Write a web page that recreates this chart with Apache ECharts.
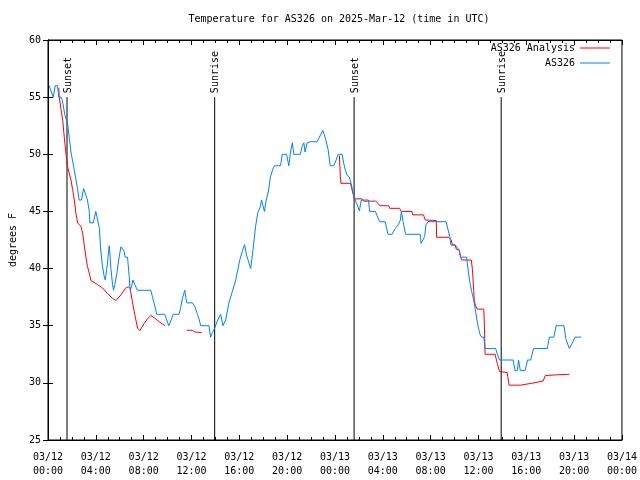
<!DOCTYPE html>
<html>
<head>
<meta charset="utf-8">
<script src="https://cdn.jsdelivr.net/npm/echarts@6/dist/echarts.min.js"></script>
<style>html,body{margin:0;padding:0;background:#fff}#c{width:640px;height:480px}</style>
</head>
<body>
<div id="c"></div>
<script>
// Hours since 2025-03-12 00:00 UTC
const blueHours = [0.1,0.44,0.6,0.8,0.9,1.1,1.2,1.4,1.64,1.92,2.2,2.48,2.6,2.8,2.98,3.1,3.3,3.45,3.5,3.78,4.0,4.15,4.3,4.42,4.56,4.7,4.79,4.9,4.98,5.06,5.12,5.2,5.26,5.4,5.48,5.59,5.76,5.95,6.1,6.18,6.37,6.45,6.65,6.79,6.87,6.98,7.1,7.26,7.48,8.6,8.74,8.87,9.0,9.1,9.77,9.93,10.1,10.3,10.47,10.96,11.1,11.24,11.44,11.6,12.08,12.27,12.5,12.63,12.77,13.46,13.6,13.75,13.94,14.16,14.44,14.63,14.86,15.13,15.42,15.7,16.05,16.25,16.44,16.6,16.8,16.95,17.14,17.36,17.55,17.72,17.86,18.0,18.1,18.25,18.42,18.6,18.8,18.95,19.45,19.59,19.95,20.14,20.28,20.43,20.56,21.1,21.26,21.4,21.5,21.67,21.95,22.5,22.8,22.98,23.2,23.43,23.6,23.9,24.1,24.26,24.6,24.73,24.87,25.0,25.2,25.35,25.5,25.65,25.85,26.04,26.2,26.8,26.9,27.38,27.57,27.74,28.2,28.35,28.44,28.77,29.05,29.33,29.47,29.55,29.7,29.9,31.13,31.2,31.36,31.5,31.6,31.78,33.3,33.43,33.6,33.7,34.06,34.4,34.5,35.0,35.17,35.3,35.43,35.6,35.74,35.87,36.0,36.14,36.28,36.45,36.55,37.44,37.58,37.76,38.9,39.06,39.25,39.35,39.5,39.9,40.1,40.37,40.6,41.76,41.93,42.3,42.5,43.15,43.3,43.6,43.9,44.07,44.6];
const blueTemps = [56,55,56,56,55,55,54.7,53.5,52.6,50.2,48.6,46.9,46,46,47,47,46,45,44,44,45,45,43.5,41.5,40.2,39.3,39,39.9,40.5,41.5,42,41,40,38.6,38.1,38.6,39.6,41,41.9,42,41.5,41,41,39.3,38.1,38.4,39,38.6,38.1,38.1,37.5,37,37,36,36,35.5,35,35.5,36,36,36.6,37.4,38.1,37,37,36.7,36,35.6,35,35,34,34.4,34.8,35.4,36,35,35.5,37,38,39,40.8,41.5,42.1,41.2,40.5,40,41.6,43.7,44.9,45.3,46,46,45,46,46.7,48,48.7,49,49,50,50,49,50.2,51,50,50,50.7,51,50.2,51,51.1,51.1,51.7,52.1,51.4,50.4,49,49,49.5,50,50,49.2,48.6,48.2,48,47.45,46.7,46.1,45.6,45.05,46,46,45,45,44.5,44.1,44.1,43.4,43,43,43.5,43.9,44.25,45,44.1,43,43,42.2,42.06,42.8,43.8,44.1,44.1,43.5,42.8,42.06,42.06,41.6,41,41,39.6,38.7,38,37.25,36.4,35.5,34.8,34.2,34,34,33,33,32.5,32,32,31.07,31.07,32,31.07,31.07,32,32,33,33,34,34,35,35,33.9,33,33.6,34,34];
const redHours = [0.9,0.94,1.08,1.23,1.36,1.5,1.64,1.92,2.06,2.2,2.34,2.48,2.6,2.75,2.9,3.03,3.17,3.3,3.45,3.59,3.72,4.15,4.56,4.98,5.4,5.68,5.8,6.1,6.5,6.7,6.87,7.07,7.35,7.49,7.68,8.04,8.32,8.6,8.74,9.0,9.3,9.57,9.8,10.7,11.6,12.08,12.27,12.85,18.6,24.37,24.45,24.5,25.3,25.4,25.5,25.63,26.27,26.4,27.4,27.6,27.74,28.5,28.57,29.4,29.55,30.44,30.5,31.4,31.55,32.47,32.5,33.5,33.72,33.83,34.06,34.14,34.4,34.5,34.6,35.4,35.5,35.6,35.65,35.74,35.9,36.45,36.5,36.55,37.4,37.48,37.6,37.76,38.4,38.45,38.56,39.5,39.6,40.45,40.6,41.4,41.6,42.5,42.6,43.6];
const redTemps = [55.8,55,54,53,51.5,50.1,48.9,47.75,46.9,46,44.8,44,43.9,43.7,43.1,42.06,41,40.2,39.6,38.95,38.9,38.6,38.3,37.8,37.4,37.2,37.25,37.7,38.3,38.4,38.3,37,35.5,34.8,34.57,35.2,35.6,35.9,35.9,35.6,35.35,35.15,35.0,null,34.6,34.6,34.45,34.4,null,49.9,48.04,47.46,47.46,47,46.6,46.1,46.1,45.9,45.9,45.7,45.5,45.5,45.27,45.27,45,45,44.7,44.7,44.25,44.2,42.74,42.74,42.5,42.06,42.06,41.7,41.6,41,40.75,40.75,39.9,38.1,37.25,36.8,36.45,36.45,34.9,32.5,32.5,32.1,31.6,31,30.9,30.55,29.8,29.8,29.96,29.96,30.1,30.16,30.64,30.7,30.75,30.75];
const eventHours = [1.59, 13.94, 25.6, 37.9];
const eventLabels = ['Sunset', 'Sunrise', 'Sunset', 'Sunrise'];
const seriesNames = ['AS326 Analysis', 'AS326'];
const titleText = 'Temperature for AS326 on 2025-Mar-12 (time in UTC)';
const yTitle = 'degrees F';

const FONT = 'DejaVu Sans Mono';
const toData = (hs, vs) => hs.map((h, i) => [h, vs[i] === null ? '-' : vs[i]]);
function fmtX(v) {
  const day = 12 + Math.floor(v / 24);
  const hh = Math.round(v % 24);
  return '03/' + String(day) + '\n' + String(hh).padStart(2, '0') + ':00';
}
const xBase = {
  type: 'value', min: 0, max: 48, interval: 4,
  axisLine: { show: true, lineStyle: { color: '#000', width: 1 } },
  axisTick: { show: true, inside: true, length: 5, lineStyle: { color: '#000' } },
  minorTick: { show: true, splitNumber: 4, length: 3, lineStyle: { color: '#000' } },
  splitLine: { show: false }
};
const yBase = {
  type: 'value', min: 25, max: 60, interval: 5,
  axisLine: { show: true, lineStyle: { color: '#000', width: 1 } },
  axisTick: { show: true, inside: true, length: 5, lineStyle: { color: '#000' } },
  splitLine: { show: false }
};
const legendBase = {
  orient: 'vertical', align: 'right', right: 25,
  itemWidth: 30, itemHeight: 10, icon: 'path://M0,4.5 L30,4.5 L30,5.5 L0,5.5 Z', itemGap: 5,
  textStyle: { fontFamily: FONT, fontSize: 10, color: '#000' }
};
const chart = echarts.init(document.getElementById('c'), null, { renderer: 'canvas' });
chart.setOption({
  animation: false,
  backgroundColor: '#fff',
  title: { text: titleText, left: 334, top: 9, textAlign: 'center',
    textStyle: { fontFamily: FONT, fontSize: 10, fontWeight: 'normal', color: '#000' } },
  legend: [
    Object.assign({}, legendBase, { data: [seriesNames[0]], top: 38 }),
    Object.assign({}, legendBase, { data: [seriesNames[1]], top: 53 })
  ],
  grid: { left: 47, right: 18, top: 40, bottom: 40, show: true, borderColor: '#000', borderWidth: 1, backgroundColor: 'transparent' },
  xAxis: [
    Object.assign({}, xBase, { position: 'bottom',
      axisLabel: { formatter: fmtX, fontFamily: FONT, fontSize: 10, color: '#000', margin: 10, lineHeight: 14, showMinLabel: true, showMaxLabel: true } }),
    Object.assign({}, xBase, { position: 'top', axisLabel: { show: false } })
  ],
  yAxis: [
    Object.assign({}, yBase, { position: 'left', name: yTitle, nameLocation: 'middle', nameGap: 30, nameRotate: 90,
      nameTextStyle: { fontFamily: FONT, fontSize: 10, color: '#000' },
      axisLabel: { fontFamily: FONT, fontSize: 10, color: '#000', margin: 7 } }),
    Object.assign({}, yBase, { position: 'right', axisLabel: { show: false } })
  ],
  series: [
    {
      type: 'custom', name: 'events', xAxisIndex: 0, yAxisIndex: 0, silent: true, z: 1,
      data: eventHours.map(h => [h, 55]),
      encode: { x: 0, y: 1 },
      renderItem: function (params, api) {
        const x = api.value(0);
        const p1 = api.coord([x, 25]);
        const p2 = api.coord([x, 55]);
        return { type: 'group', children: [
          { type: 'line', shape: { x1: p1[0], y1: p1[1], x2: p2[0], y2: p2[1] }, style: { stroke: '#000', lineWidth: 1 } },
          { type: 'text', x: p2[0] + 1, y: p2[1] - 4, rotation: Math.PI / 2,
            style: { text: eventLabels[params.dataIndex], font: '10px ' + FONT, fill: '#000', align: 'left', verticalAlign: 'middle' } }
        ] };
      }
    },
    {
      type: 'line', name: seriesNames[0], xAxisIndex: 0, yAxisIndex: 0, z: 2,
      data: toData(redHours, redTemps), showSymbol: false, connectNulls: false,
      lineStyle: { color: '#ff0000', width: 1 }, itemStyle: { color: '#ff0000' }
    },
    {
      type: 'line', name: seriesNames[1], xAxisIndex: 0, yAxisIndex: 0, z: 3,
      data: toData(blueHours, blueTemps), showSymbol: false,
      lineStyle: { color: '#0080ff', width: 1 }, itemStyle: { color: '#0080ff' }
    }
  ]
});
</script>
</body>
</html>
